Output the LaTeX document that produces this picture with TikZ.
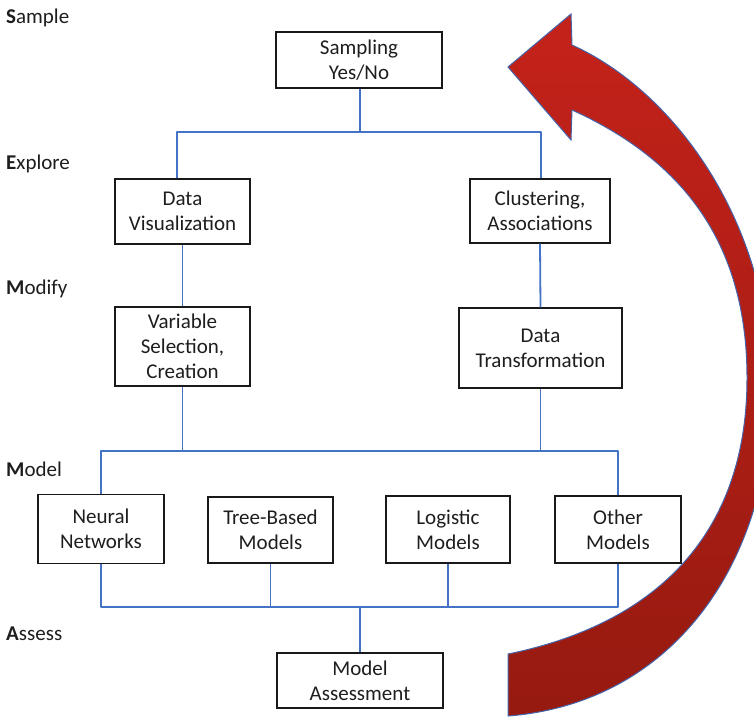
\documentclass[tikz,border=0pt]{standalone}
\usepackage{fontspec}
\setmainfont{Carlito}
\definecolor{connblue}{RGB}{68,114,196}
\definecolor{arrowedge}{RGB}{70,100,170}
\definecolor{redtop}{RGB}{196,34,26}
\definecolor{redbot}{RGB}{150,26,16}
\definecolor{txt}{RGB}{30,30,30}
\tikzset{
  box/.style={draw=black!90, line width=1.4pt, inner sep=0pt, align=center,
    text=txt, font=\fontsize{21}{25}\selectfont},
  conn/.style={draw=connblue, line width=1.8pt, line join=round},
  stage/.style={anchor=west, inner sep=0pt, text=txt, font=\fontsize{21}{25}\selectfont}
}
\begin{document}
\begin{tikzpicture}[x=1pt,y=-1pt]
\useasboundingbox (0,0) rectangle (754,717);
\fill[white] (0,0) rectangle (754,717);

% stage labels
\node[stage] (lS) at (6,18) {\textbf{S}ample};
\node[stage] (lE) at (6,164) {\textbf{E}xplore};
\node[stage] (lMo) at (6,289) {\textbf{M}odify};
\node[stage] (lM) at (6,469) {\textbf{M}odel};
\node[stage] (lA) at (6,634) {\textbf{A}ssess};

% boxes
\node[box, minimum width=166, minimum height=56] (samp) at (359,60) {Sampling\\Yes/No};
\node[box, minimum width=135, minimum height=65] (dv) at (182.5,211.5) {Data\\Visualization};
\node[box, minimum width=140, minimum height=64] (cl) at (540,211) {Clustering,\\Associations};
\node[box, minimum width=135, minimum height=79] (vs) at (182.5,346.5) {Variable\\Selection,\\Creation};
\node[box, minimum width=163, minimum height=80] (dt) at (540.5,348) {Data\\Transformation};
\node[box, minimum width=126, minimum height=69] (nn) at (101,529) {Neural\\Networks};
\node[box, minimum width=125, minimum height=66] (tb) at (270.5,530) {Tree-Based\\Models};
\node[box, minimum width=124, minimum height=67] (lg) at (448,529.5) {Logistic\\Models};
\node[box, minimum width=126, minimum height=67] (ot) at (618,529.5) {Other\\Models};
\node[box, minimum width=166, minimum height=55] (ma) at (360,680.5) {Model\\Assessment};

% junction coordinates
\coordinate (jt) at (360,132);
\coordinate (jtl) at (177,132);
\coordinate (jtr) at (541,132);
\coordinate (jm) at (101,451);
\coordinate (jmr) at (618,451);
\coordinate (jb) at (101,607);
\coordinate (jbr) at (618,607);

% connectors
\draw[conn] (samp.south -| jt) -- (jt);
\draw[conn] (jtl |- dv.north) -- (jtl) -- (jtr) -- (jtr |- cl.north);
\draw[conn] (dv.south) -- (vs.north);
\draw[conn] (cl.south) -- (dt.north);
\draw[conn] (vs.south) -- (vs.south |- jm);
\draw[conn] (dt.south) -- (dt.south |- jm);
\draw[conn] (nn.north) -- (jm) -- (jmr) -- (ot.north);
\draw[conn] (nn.south) -- (jb) -- (jbr) -- (ot.south);
\draw[conn] (tb.south) -- (tb.south |- jb);
\draw[conn] (lg.south) -- (lg.south |- jb);
\draw[conn] (ma.north) -- (ma.north |- jb);

% big curved arrow
\begin{scope}
\clip (0,0) rectangle (754,717);
\shadedraw[top color=redtop, bottom color=redbot, draw=arrowedge, line width=1pt, line join=miter]
  (508,716) .. controls (675,703) and (771,560) .. (771,390)
  .. controls (771,220) and (672,90) .. (572,45)
  -- (571,14) -- (508,67) -- (571,140) -- (572,110)
  .. controls (680,159) and (747,240) .. (747,378)
  .. controls (747,540) and (650,625) .. (508,654)
  -- cycle;
\end{scope}
\end{tikzpicture}
\end{document}
